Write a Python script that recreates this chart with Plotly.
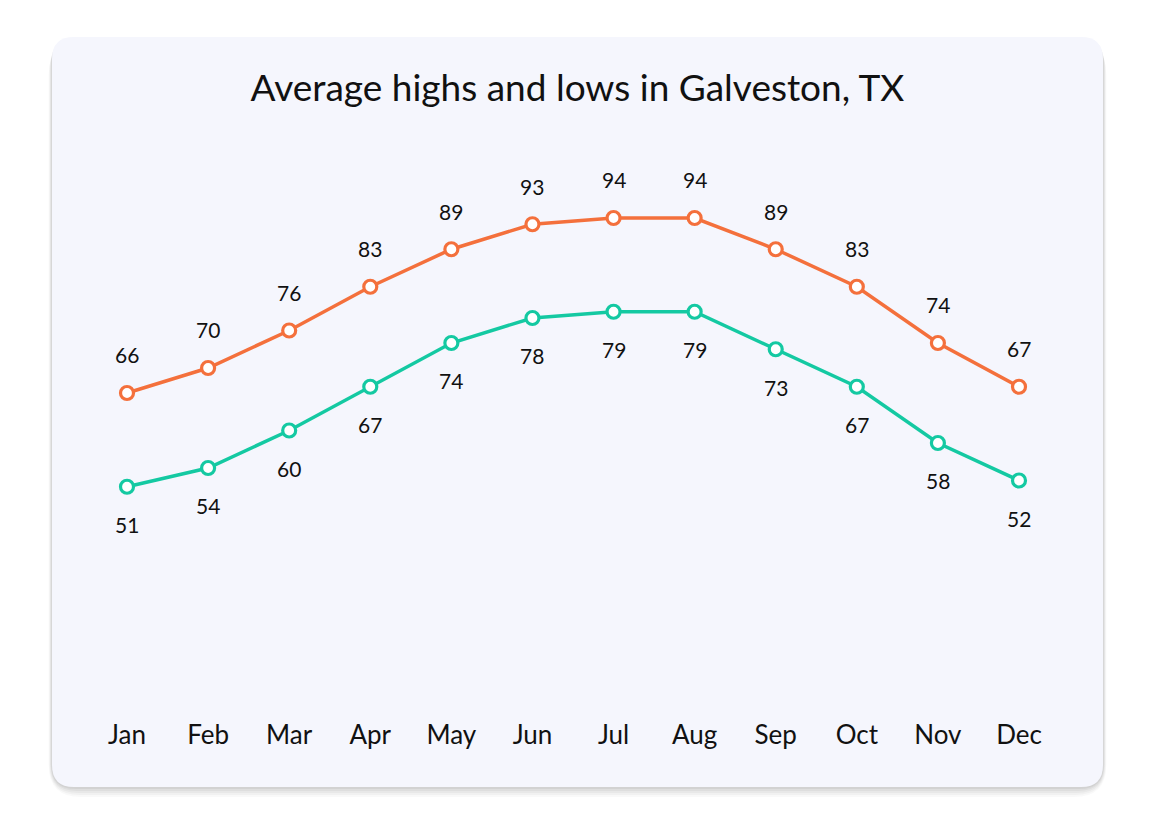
import plotly.graph_objects as go

# Data
months = ['Jan', 'Feb', 'Mar', 'Apr', 'May', 'Jun', 'Jul', 'Aug', 'Sep', 'Oct', 'Nov', 'Dec']
highs = [66, 70, 76, 83, 89, 93, 94, 94, 89, 83, 74, 67]
lows = [51, 54, 60, 67, 74, 78, 79, 79, 73, 67, 58, 52]

# page has an 8px body margin, so the figure is drawn 8px in from the window edge
PAD = 8
W, H = 1155 - 2 * PAD, 825 - 2 * PAD
ORANGE = '#F4703C'
TEAL = '#14C9A2'
CARD = '#F5F6FD'
FONT = 'Lato, Noto Sans, sans-serif'


def fx(x):
    return (x - PAD) / W


def fy(y):
    return 1 - (y - PAD) / H


def rounded_rect(x0, y0, x1, y1, r):
    # window pixel coords (top-left origin) -> paper path
    def p(x, y):
        return f'{fx(x):.5f},{fy(y):.5f}'
    return (f'M {p(x0 + r, y0)} L {p(x1 - r, y0)} Q {p(x1, y0)} {p(x1, y0 + r)} '
            f'L {p(x1, y1 - r)} Q {p(x1, y1)} {p(x1 - r, y1)} '
            f'L {p(x0 + r, y1)} Q {p(x0, y1)} {p(x0, y1 - r)} '
            f'L {p(x0, y0 + r)} Q {p(x0, y0)} {p(x0 + r, y0)} Z')


fig = go.Figure()

fig.add_trace(go.Scatter(
    x=months, y=highs, mode='lines+markers', name='High',
    line=dict(color=ORANGE, width=3.5),
    marker=dict(size=13, color='white', line=dict(color=ORANGE, width=3.2)),
    cliponaxis=False,
))
fig.add_trace(go.Scatter(
    x=months, y=lows, mode='lines+markers', name='Low',
    line=dict(color=TEAL, width=3.5),
    marker=dict(size=13, color='white', line=dict(color=TEAL, width=3.2)),
    cliponaxis=False,
))

# value labels, offset above highs and below lows
annotations = []
for m, v in zip(months, highs):
    annotations.append(dict(x=m, y=v, text=str(v), showarrow=False, yshift=38,
                            font=dict(size=21, color='#111111', family=FONT)))
for m, v in zip(months, lows):
    annotations.append(dict(x=m, y=v, text=str(v), showarrow=False, yshift=-38,
                            font=dict(size=21, color='#111111', family=FONT)))

# card with soft shadow
shapes = []
for i, op in enumerate([0.025, 0.03, 0.035, 0.04, 0.05]):
    off = 10 - 2 * i
    shapes.append(dict(type='path', xref='paper', yref='paper', layer='below',
                       path=rounded_rect(52 - off / 3, 37 + off / 2, 1103 + off / 3, 787 + off, 22 + off),
                       fillcolor=f'rgba(0,0,0,{op})', line=dict(width=0)))
shapes.append(dict(type='path', xref='paper', yref='paper', layer='below',
                   path=rounded_rect(52, 37, 1103, 787, 22),
                   fillcolor=CARD, line=dict(width=0)))

# window pixel geometry: Jan at x=126, Dec at x=1018; 66 at y=393, 94 at y=218
step = (1018 - 126) / 11
x_left, x_right = 127 - step / 2, 1019 + step / 2
ppd = (393 - 218) / 28
y_bot, y_top = 698, 150

fig.update_layout(
    width=W, height=H,
    margin=dict(l=0, r=0, t=0, b=0),
    paper_bgcolor='white', plot_bgcolor='rgba(0,0,0,0)',
    showlegend=False,
    shapes=shapes,
    annotations=annotations,
    title=dict(text='Average highs and lows in Galveston, TX', x=fx(577.5), xanchor='center',
               y=fy(88), yanchor='middle',
               font=dict(size=37, color='#111111', family=FONT)),
    xaxis=dict(domain=[fx(x_left), fx(x_right)], range=[-0.5, 11.5],
               showgrid=False, zeroline=False, showline=False,
               ticks='outside', ticklen=14, tickcolor='rgba(0,0,0,0)',
               tickfont=dict(size=26, color='#111111', family=FONT)),
    yaxis=dict(domain=[fy(y_bot), fy(y_top)],
               range=[66 - (y_bot - 393) / ppd, 66 + (393 - y_top) / ppd],
               visible=False),
)

fig.write_html('out.html')
